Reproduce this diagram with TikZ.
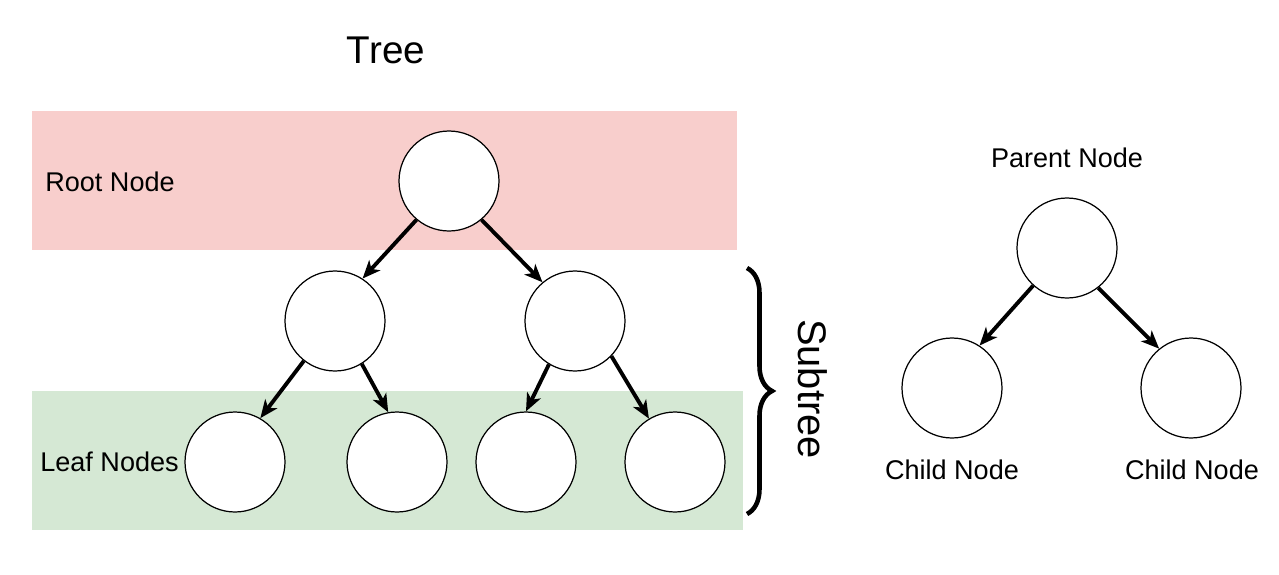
\documentclass[tikz,border=0pt]{standalone}
\usepackage{fontspec}
\setmainfont{Liberation Sans}
\usetikzlibrary{arrows.meta,decorations.pathreplacing}
\definecolor{rootfill}{HTML}{F8CECC}
\definecolor{leaffill}{HTML}{D5E8D4}
\begin{document}
\begin{tikzpicture}[x=0.02cm,y=-0.02cm,
  treenode/.style={circle,draw=black,fill=white,line width=0.7pt,minimum size=2cm,inner sep=0pt},
  edge/.style={line width=2.2pt,-{Stealth[length=0.36cm,width=0.3cm,inset=0.1cm]}},
  label/.style={inner sep=0pt,font=\fontsize{15.4}{18}\selectfont}]
  \useasboundingbox[fill=white] (0,0) rectangle (1279,575);

  % level bands
  \fill[rootfill] (32,111) rectangle (737,250);
  \fill[leaffill] (32,391) rectangle (743,530);

  \node[inner sep=0pt,font=\fontsize{22}{26}\selectfont] (title) at (386,50) {Tree};
  \node[label,anchor=west] (rootlbl) at (45,182) {Root Node};
  \node[label,anchor=west] (leaflbl) at (40,462) {Leaf Nodes};

  % the tree
  \node[treenode] (root) at (449,181) {};
  \node[treenode] (a) at (335,321) {};
  \node[treenode] (b) at (575,321) {};
  \node[treenode] (a1) at (235,462) {};
  \node[treenode] (a2) at (397,462) {};
  \node[treenode] (b1) at (526,462) {};
  \node[treenode] (b2) at (675,462) {};

  \draw[edge] (root.230) -- (a.57);
  \draw[edge] (root.310) -- (b.130);
  \draw[edge] (a.232) -- (a1.60);
  \draw[edge] (a.302) -- (a2.100);
  \draw[edge] (b.239) -- (b1.90);
  \draw[edge] (b.316) -- (b2.121);

  % subtree brace
  \coordinate (bt) at (747,268);
  \coordinate (bb) at (747,514);
  \draw[line width=2.6pt,decorate,decoration={brace,amplitude=0.5cm}] (bt) -- (bb);
  \node[inner sep=0pt,rotate=-90,font=\fontsize{22.7}{26}\selectfont] (sub) at (813,389) {Subtree};

  % parent / child example
  \node[label] (plbl) at (1067,158) {Parent Node};
  \node[treenode] (p) at (1067,248) {};
  \node[treenode] (c1) at (952,388) {};
  \node[treenode] (c2) at (1191,388) {};
  \draw[edge] (p.228) -- (c1.57);
  \draw[edge] (p.308) -- (c2.129);
  \node[label] (c1lbl) at (952,470) {Child Node};
  \node[label] (c2lbl) at (1192,470) {Child Node};
\end{tikzpicture}
\end{document}
